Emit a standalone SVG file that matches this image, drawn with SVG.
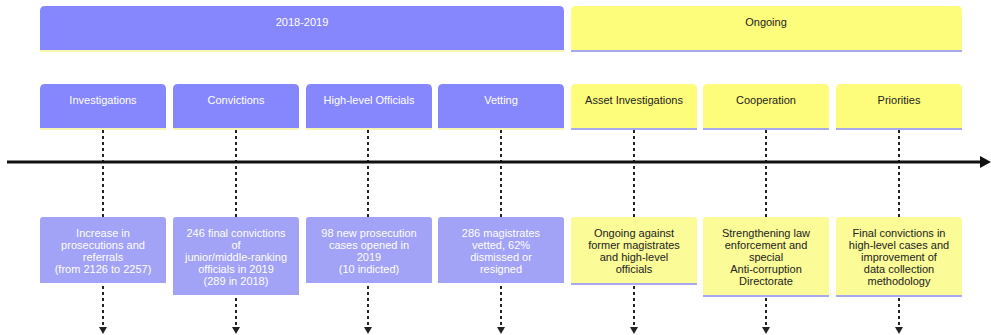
<svg xmlns="http://www.w3.org/2000/svg" width="991" height="335" viewBox="0 0 991 335">
<defs>
<style>
text{font-family:"Liberation Sans",Arial,sans-serif;font-size:11px;text-anchor:middle}
.p{fill:#8787fd}
.pe{fill:#a2a2f7}
.y{fill:#fdfd7b}
.ye{fill:#fbfb97}
.tw{fill:#ffffff}
.tb{fill:#222222}
.ly{stroke:#f6f6b0;stroke-width:2}
.lp{stroke:#a9a9f0;stroke-width:2}
.dash{stroke:#222;stroke-width:2;stroke-dasharray:3,3;fill:none}
</style>
<marker id="ah" markerWidth="8" markerHeight="8" refX="6" refY="4" orient="auto" markerUnits="userSpaceOnUse">
<path d="M0,0 L7,4 L0,8 Z" fill="#222"/>
</marker>
</defs>
<rect width="991" height="335" fill="#ffffff"/>
<g id="connectors">
<line class="dash" x1="103" y1="130" x2="103" y2="333" marker-end="url(#ah)"/>
<line class="dash" x1="236" y1="130" x2="236" y2="333" marker-end="url(#ah)"/>
<line class="dash" x1="368" y1="130" x2="368" y2="333" marker-end="url(#ah)"/>
<line class="dash" x1="501" y1="130" x2="501" y2="333" marker-end="url(#ah)"/>
<line class="dash" x1="634" y1="130" x2="634" y2="333" marker-end="url(#ah)"/>
<line class="dash" x1="766" y1="130" x2="766" y2="333" marker-end="url(#ah)"/>
<line class="dash" x1="899" y1="130" x2="899" y2="333" marker-end="url(#ah)"/>
<line x1="7" y1="162" x2="982" y2="162" stroke="#111" stroke-width="3"/>
<path d="M980,156 L991,162 L980,168 Z" fill="#111"/>
</g>
<g id="section-2018-2019">
<path class="p" d="M40,50 V11 Q40,6 45,6 H559 Q564,6 564,11 V50 Z"/>
<line class="ly" x1="40" y1="51" x2="564" y2="51"/>
<text class="tw" x="302" y="26">2018-2019</text>
</g>
<g id="section-ongoing">
<path class="y" d="M571,50 V11 Q571,6 576,6 H957 Q962,6 962,11 V50 Z"/>
<line class="lp" x1="571" y1="51" x2="962" y2="51"/>
<text class="tb" x="766" y="26">Ongoing</text>
</g>
<g id="task-investigations">
<path class="p" d="M40,128 V89 Q40,84 45,84 H161 Q166,84 166,89 V128 Z"/>
<line class="ly" x1="40" y1="129" x2="166" y2="129"/>
<text class="tw" x="103" y="104">Investigations</text>
</g>
<g id="task-convictions">
<path class="p" d="M173,128 V89 Q173,84 178,84 H294 Q299,84 299,89 V128 Z"/>
<line class="ly" x1="173" y1="129" x2="299" y2="129"/>
<text class="tw" x="236" y="104">Convictions</text>
</g>
<g id="task-high-level">
<path class="p" d="M306,128 V89 Q306,84 311,84 H427 Q432,84 432,89 V128 Z"/>
<line class="ly" x1="306" y1="129" x2="432" y2="129"/>
<text class="tw" x="369" y="104">High-level Officials</text>
</g>
<g id="task-vetting">
<path class="p" d="M438,128 V89 Q438,84 443,84 H559 Q564,84 564,89 V128 Z"/>
<line class="ly" x1="438" y1="129" x2="564" y2="129"/>
<text class="tw" x="501" y="104">Vetting</text>
</g>
<g id="task-asset">
<path class="y" d="M571,128 V89 Q571,84 576,84 H692 Q697,84 697,89 V128 Z"/>
<line class="lp" x1="571" y1="129" x2="697" y2="129"/>
<text class="tb" x="634" y="104">Asset Investigations</text>
</g>
<g id="task-cooperation">
<path class="y" d="M703,128 V89 Q703,84 708,84 H824 Q829,84 829,89 V128 Z"/>
<line class="lp" x1="703" y1="129" x2="829" y2="129"/>
<text class="tb" x="766" y="104">Cooperation</text>
</g>
<g id="task-priorities">
<path class="y" d="M836,128 V89 Q836,84 841,84 H957 Q962,84 962,89 V128 Z"/>
<line class="lp" x1="836" y1="129" x2="962" y2="129"/>
<text class="tb" x="899" y="104">Priorities</text>
</g>
<g id="event-investigations">
<path class="pe" d="M40,283 V220 Q40,217 43,217 H163 Q166,217 166,220 V283 Z"/>
<text class="tw" x="103" y="237">Increase in</text>
<text class="tw" x="103" y="249">prosecutions and</text>
<text class="tw" x="103" y="261">referrals</text>
<text class="tw" x="103" y="273">(from 2126 to 2257)</text>
</g>
<g id="event-convictions">
<path class="pe" d="M173,295 V220 Q173,217 176,217 H296 Q299,217 299,220 V295 Z"/>
<text class="tw" x="236" y="237">246 final convictions</text>
<text class="tw" x="236" y="249">of</text>
<text class="tw" x="236" y="261">junior/middle-ranking</text>
<text class="tw" x="236" y="273">officials in 2019</text>
<text class="tw" x="236" y="285">(289 in 2018)</text>
</g>
<g id="event-high-level">
<path class="pe" d="M306,283 V220 Q306,217 309,217 H429 Q432,217 432,220 V283 Z"/>
<text class="tw" x="369" y="237">98 new prosecution</text>
<text class="tw" x="369" y="249">cases opened in</text>
<text class="tw" x="369" y="261">2019</text>
<text class="tw" x="369" y="273">(10 indicted)</text>
</g>
<g id="event-vetting">
<path class="pe" d="M438,283 V220 Q438,217 441,217 H561 Q564,217 564,220 V283 Z"/>
<text class="tw" x="501" y="237">286 magistrates</text>
<text class="tw" x="501" y="249">vetted, 62%</text>
<text class="tw" x="501" y="261">dismissed or</text>
<text class="tw" x="501" y="273">resigned</text>
</g>
<g id="event-asset">
<path class="ye" d="M571,283 V220 Q571,217 574,217 H694 Q697,217 697,220 V283 Z"/>
<line class="lp" x1="571" y1="284" x2="697" y2="284"/>
<text class="tb" x="634" y="237">Ongoing against</text>
<text class="tb" x="634" y="249">former magistrates</text>
<text class="tb" x="634" y="261">and high-level</text>
<text class="tb" x="634" y="273">officials</text>
</g>
<g id="event-cooperation">
<path class="ye" d="M703,295 V220 Q703,217 706,217 H826 Q829,217 829,220 V295 Z"/>
<line class="lp" x1="703" y1="296" x2="829" y2="296"/>
<text class="tb" x="766" y="237">Strengthening law</text>
<text class="tb" x="766" y="249">enforcement and</text>
<text class="tb" x="766" y="261">special</text>
<text class="tb" x="766" y="273">Anti-corruption</text>
<text class="tb" x="766" y="285">Directorate</text>
</g>
<g id="event-priorities">
<path class="ye" d="M836,295 V220 Q836,217 839,217 H959 Q962,217 962,220 V295 Z"/>
<line class="lp" x1="836" y1="296" x2="962" y2="296"/>
<text class="tb" x="899" y="237">Final convictions in</text>
<text class="tb" x="899" y="249">high-level cases and</text>
<text class="tb" x="899" y="261">improvement of</text>
<text class="tb" x="899" y="273">data collection</text>
<text class="tb" x="899" y="285">methodology</text>
</g>
</svg>
